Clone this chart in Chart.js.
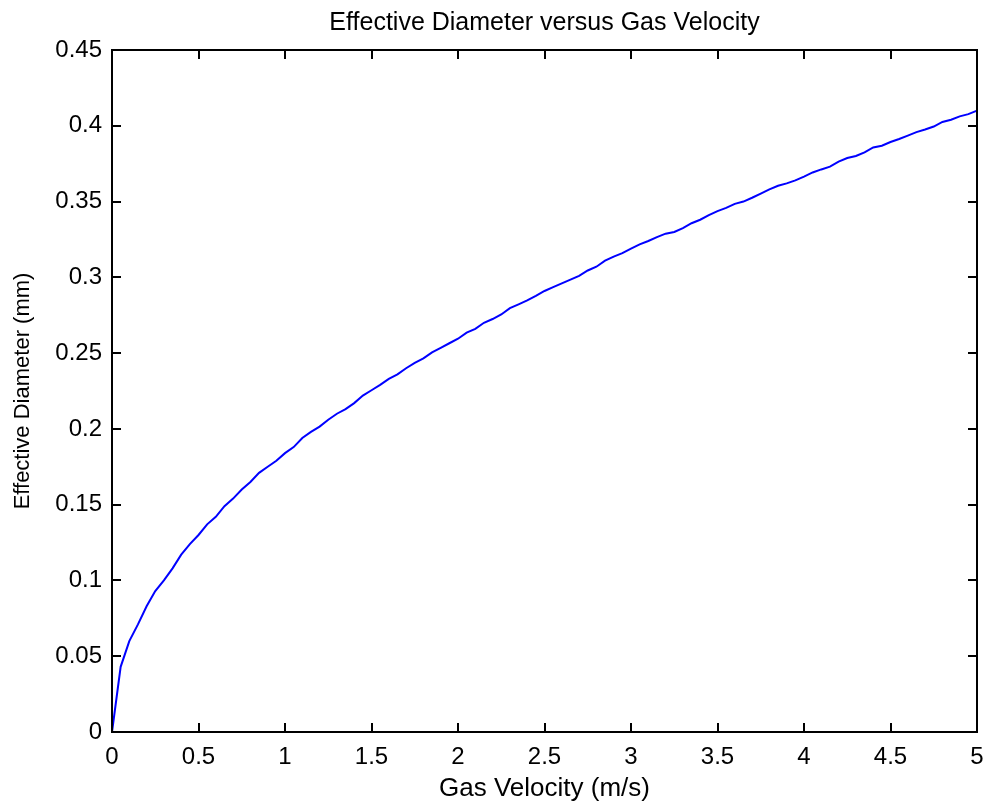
<!DOCTYPE html>
<html>
<head>
<meta charset="utf-8">
<title>Effective Diameter versus Gas Velocity</title>
<script src="https://cdn.jsdelivr.net/npm/chart.js@4.4.1/dist/chart.umd.min.js"></script>
<style>
    html, body { margin: 0; padding: 0; background: #fff; }
    #wrap { width: 990px; height: 804px; }
</style>
</head>
<body>
<div id="wrap"><canvas id="chart" width="990" height="804"></canvas></div>
<script>
// texts
const chartTitle = 'Effective Diameter versus Gas Velocity';
const xTitle = 'Gas Velocity (m/s)';
const yTitle = 'Effective Diameter (mm)';

// gas velocity (m/s)
const velocity = [
    0.00, 0.05, 0.10, 0.15, 0.20, 0.25, 0.30, 0.35, 0.40, 0.45,
    0.50, 0.55, 0.60, 0.65, 0.70, 0.75, 0.80, 0.85, 0.90, 0.95,
    1.00, 1.05, 1.10, 1.15, 1.20, 1.25, 1.30, 1.35, 1.40, 1.45,
    1.50, 1.55, 1.60, 1.65, 1.70, 1.75, 1.80, 1.85, 1.90, 1.95,
    2.00, 2.05, 2.10, 2.15, 2.20, 2.25, 2.30, 2.35, 2.40, 2.45,
    2.50, 2.55, 2.60, 2.65, 2.70, 2.75, 2.80, 2.85, 2.90, 2.95,
    3.00, 3.05, 3.10, 3.15, 3.20, 3.25, 3.30, 3.35, 3.40, 3.45,
    3.50, 3.55, 3.60, 3.65, 3.70, 3.75, 3.80, 3.85, 3.90, 3.95,
    4.00, 4.05, 4.10, 4.15, 4.20, 4.25, 4.30, 4.35, 4.40, 4.45,
    4.50, 4.55, 4.60, 4.65, 4.70, 4.75, 4.80, 4.85, 4.90, 4.95,
    5.00
];

// effective diameter (mm)
const diameter = [
    0.0000, 0.0430, 0.0600, 0.0710, 0.0830, 0.0930, 0.1000, 0.1080, 0.1170, 0.1240,
    0.1300, 0.1370, 0.1420, 0.1490, 0.1540, 0.1600, 0.1650, 0.1710, 0.1750, 0.1790,
    0.1840, 0.1880, 0.1940, 0.1980, 0.2015, 0.2060, 0.2100, 0.2130, 0.2170, 0.2220,
    0.2255, 0.2290, 0.2330, 0.2360, 0.2400, 0.2435, 0.2465, 0.2505, 0.2535, 0.2565,
    0.2595, 0.2635, 0.2660, 0.2700, 0.2725, 0.2755, 0.2797, 0.2822, 0.2848, 0.2878,
    0.2910, 0.2935, 0.2960, 0.2985, 0.3010, 0.3045, 0.3070, 0.3110, 0.3137, 0.3160,
    0.3190, 0.3218, 0.3240, 0.3265, 0.3288, 0.3299, 0.3325, 0.3357, 0.3380, 0.3410,
    0.3437, 0.3458, 0.3485, 0.3500, 0.3525, 0.3553, 0.3580, 0.3604, 0.3620, 0.3640,
    0.3665, 0.3692, 0.3712, 0.3730, 0.3763, 0.3787, 0.3801, 0.3825, 0.3857, 0.3868,
    0.3893, 0.3913, 0.3935, 0.3958, 0.3975, 0.3995, 0.4025, 0.4040, 0.4062, 0.4077,
    0.4100
];

const fontFamily = "'Liberation Sans', Arial, sans-serif";

function fmtTick(v) {
    return String(Number(v.toFixed(2)));
}

// MATLAB style box: border, inward ticks on all sides, title
const matlabAxes = {
    id: 'matlabAxes',
    afterDatasetsDraw(chart) {
        const { ctx, chartArea: a, scales: { x, y } } = chart;
        const len = 9;
        ctx.save();
        ctx.strokeStyle = '#000';
        ctx.lineWidth = 2;
        ctx.beginPath();
        x.ticks.forEach(t => {
            const px = Math.round(x.getPixelForValue(t.value));
            ctx.moveTo(px, a.bottom);
            ctx.lineTo(px, a.bottom - len);
            ctx.moveTo(px, a.top);
            ctx.lineTo(px, a.top + len);
        });
        y.ticks.forEach(t => {
            const py = Math.round(y.getPixelForValue(t.value));
            ctx.moveTo(a.left, py);
            ctx.lineTo(a.left + len, py);
            ctx.moveTo(a.right, py);
            ctx.lineTo(a.right - len, py);
        });
        ctx.stroke();
        ctx.strokeRect(a.left, a.top, a.right - a.left, a.bottom - a.top);

        ctx.fillStyle = '#000';
        ctx.font = '25px ' + fontFamily;
        ctx.textAlign = 'center';
        ctx.textBaseline = 'middle';
        ctx.fillText(chartTitle, (a.left + a.right) / 2, 23);
        ctx.restore();
    }
};

const chart = new Chart(document.getElementById('chart'), {
    type: 'line',
    data: {
        datasets: [{
            label: yTitle,
            data: velocity.map((v, i) => ({ x: v, y: diameter[i] })),
            borderColor: '#0000ff',
            borderWidth: 2,
            pointRadius: 0,
            fill: false,
            tension: 0,
            clip: false
        }]
    },
    options: {
        responsive: false,
        animation: false,
        layout: {
            padding: { top: 50, right: 13, left: 0, bottom: 0 }
        },
        plugins: {
            legend: { display: false },
            title: { display: false },
            tooltip: { enabled: false }
        },
        scales: {
            x: {
                type: 'linear',
                min: 0,
                max: 5,
                border: { display: false },
                grid: { display: false, drawTicks: false },
                ticks: {
                    stepSize: 0.5,
                    padding: 11,
                    color: '#000',
                    font: { family: fontFamily, size: 24 },
                    maxRotation: 0,
                    callback: v => fmtTick(v)
                },
                title: {
                    display: true,
                    text: xTitle,
                    color: '#000',
                    font: { family: fontFamily, size: 26 },
                    padding: { top: 0, bottom: 0 }
                },
                afterFit: scale => {
                    scale.height = 72;
                    scale.paddingLeft = 0;
                    scale.paddingRight = 0;
                }
            },
            y: {
                type: 'linear',
                min: 0,
                max: 0.45,
                border: { display: false },
                grid: { display: false, drawTicks: false },
                ticks: {
                    stepSize: 0.05,
                    padding: 10,
                    color: '#000',
                    font: { family: fontFamily, size: 24 },
                    callback: v => fmtTick(v)
                },
                title: {
                    display: true,
                    text: yTitle,
                    color: '#000',
                    font: { family: fontFamily, size: 22 },
                    padding: { top: 10, bottom: 0 }
                },
                afterFit: scale => { scale.width = 112; }
            }
        }
    },
    plugins: [matlabAxes]
});
</script>
</body>
</html>
